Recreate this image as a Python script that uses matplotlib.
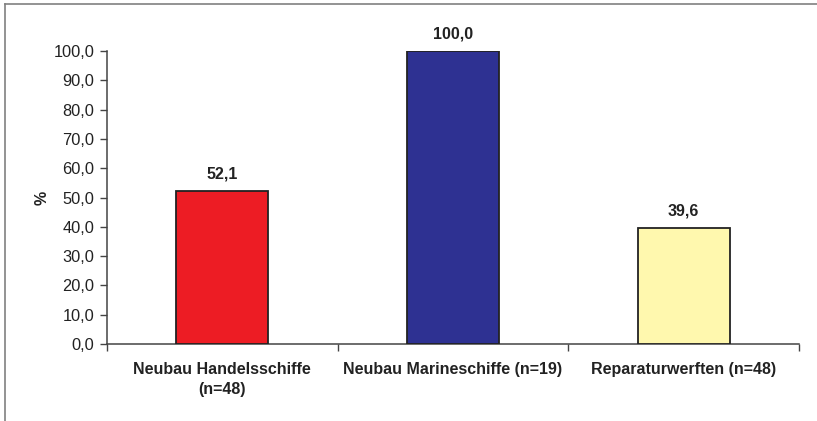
import matplotlib
matplotlib.use("Agg")
import matplotlib.pyplot as plt
from matplotlib.lines import Line2D
import numpy as np

categories = ["Neubau Handelsschiffe\n(n=48)", "Neubau Marineschiffe (n=19)", "Reparaturwerften (n=48)"]
values = [52.1, 100.0, 39.6]
colors = ["#ED1C24", "#2E3192", "#FFF8AE"]
yticks = [0, 10, 20, 30, 40, 50, 60, 70, 80, 90, 100]

plt.rcParams["font.family"] = ["Liberation Sans", "DejaVu Sans"]
text_col = "#222222"

fig = plt.figure(figsize=(8.17, 4.21), dpi=100)
ax = fig.add_axes([107 / 817, 77 / 421, 692 / 817, 293 / 421])

x = np.arange(len(categories))
ax.bar(x, values, width=0.4, color=colors, edgecolor="#222222", linewidth=1.3, zorder=3)

for xi, v in zip(x, values):
    ax.annotate(f"{v:.1f}".replace(".", ","), (xi, v), xytext=(0, 7), textcoords="offset points",
                ha="center", va="bottom", fontsize=11.5, fontweight="bold", color=text_col)

ax.set_xlim(-0.5, 2.5)
ax.set_ylim(0, 100)
ax.set_yticks(yticks)
ax.set_yticklabels([f"{t:.1f}".replace(".", ",") for t in yticks], fontsize=11.8, color=text_col)
ax.set_xticks(x)
ax.set_xticklabels(categories, fontsize=11.5, fontweight="bold", color=text_col, linespacing=1.45)
ax.set_xticks([-0.5, 0.5, 1.5, 2.5], minor=True)
ax.tick_params(axis="x", which="major", length=0, pad=13)
ax.tick_params(axis="x", which="minor", length=5, width=1, color="#444444", direction="out")
ax.tick_params(axis="y", length=5, width=1, color="#444444", direction="out", pad=4)

for s in ["top", "right"]:
    ax.spines[s].set_visible(False)
for s in ["left", "bottom"]:
    ax.spines[s].set_color("#444444")
    ax.spines[s].set_linewidth(1.1)

ax.set_ylabel("%", fontsize=11.5, fontweight="bold", color=text_col, labelpad=3)

# outer chart frame (cropped)
fig.add_artist(Line2D([5 / 817, 1.0], [1 - 4 / 421, 1 - 4 / 421], transform=fig.transFigure,
                      color="#808080", linewidth=1.2))
fig.add_artist(Line2D([5 / 817, 5 / 817], [0, 1 - 4 / 421], transform=fig.transFigure,
                      color="#808080", linewidth=1.2))

fig.savefig("out.png", dpi=100)
